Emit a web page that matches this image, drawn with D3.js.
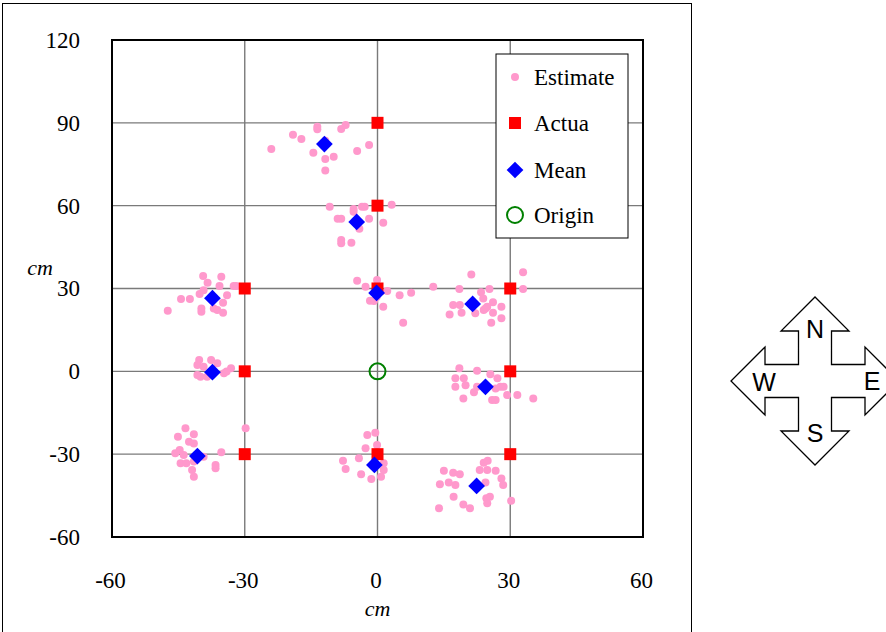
<!DOCTYPE html>
<html>
<head>
<meta charset="utf-8">
<script src="https://cdn.jsdelivr.net/npm/d3@7/dist/d3.min.js"></script>
<style>
  body { margin: 0; background: #fff; }
  svg { display: block; }
</style>
</head>
<body>
<svg width="886" height="632"></svg>
<script>
const xTicks = [-60, -30, 0, 30, 60]
const yTicks = [-60, -30, 0, 30, 60, 90, 120]
const gridX = [-30, 0, 30]
const gridY = [-30, 0, 30, 60, 90]

const actual = [[0, 90], [0, 60], [-30, 30], [0, 30], [30, 30], [-30, 0], [30, 0], [-30, -30], [0, -30], [30, -30]]
const means = [[-12.0, 82.3], [-4.7, 54.1], [-37.3, 26.5], [-0.2, 28.4], [21.5, 24.4], [-37.3, -0.3], [24.4, -5.6], [-40.7, -30.7], [-0.7, -33.9], [22.4, -41.5]]
const origin = [[0, 0]]

// estimates, grouped by target
const estN90 = [[-24.0, 80.5], [-19.1, 85.7], [-17.2, 84.1], [-13.6, 88.6], [-13.6, 87.7], [-8.2, 87.8], [-7.2, 89.2], [-14.5, 79.2], [-11.8, 76.9], [-9.9, 77.7], [-11.8, 72.7], [-4.6, 79.8], [-1.9, 82.0], [-11.8, 83.5]]
const estN60 = [[-10.8, 59.6], [-5.4, 58.8], [-3.5, 59.6], [-2.9, 59.6], [3.2, 60.3], [-9.0, 55.3], [-8.2, 55.3], [-1.9, 55.3], [1.3, 53.8], [-4.1, 51.6], [-8.2, 47.6], [-8.2, 46.4], [-5.9, 46.6], [-5.4, 57.8]]
const estNW = [[-39.4, 34.5], [-35.3, 34.3], [-38.4, 32.1], [-35.7, 30.9], [-32.5, 30.9], [-31.9, 30.9], [-44.4, 26.2], [-42.4, 26.2], [-40.2, 28.0], [-34.0, 27.6], [-34.9, 24.8], [-47.4, 21.9], [-39.8, 22.8], [-39.8, 21.6], [-37.0, 22.8], [-36.2, 22.2], [-34.9, 21.2], [-39.3, 29.4]]
const estW = [[-40.3, 4.1], [-37.6, 4.1], [-40.7, 2.3], [-36.2, 2.9], [-33.1, 1.1], [-40.7, -1.3], [-40.0, -2.0], [-38.5, -2.0], [-34.7, -0.7], [-34.1, -0.1], [-39.3, 1.7]]
const estN30 = [[-4.6, 32.8], [-2.7, 30.6], [-0.1, 33.1], [2.2, 29.1], [5.0, 27.6], [7.6, 28.5], [12.6, 30.6], [-1.7, 25.6], [-0.8, 25.5], [1.3, 23.4], [5.8, 17.6], [-0.2, 26.9]]
const estNE = [[21.2, 35.1], [32.9, 35.9], [18.5, 29.8], [23.4, 28.6], [25.3, 29.8], [32.9, 29.8], [23.9, 26.4], [17.1, 24.0], [18.6, 24.0], [26.1, 25.0], [24.8, 23.4], [24.0, 22.2], [28.0, 23.4], [16.3, 20.6], [19.0, 21.2], [22.1, 21.0], [26.1, 21.2], [28.0, 19.2], [25.7, 17.6], [24.4, 22.8]]
const estE = [[18.5, 1.1], [22.5, 0.2], [25.5, -1.1], [17.6, -2.5], [19.5, -2.5], [27.1, -2.5], [17.6, -5.6], [19.9, -5.0], [22.5, -5.6], [27.8, -5.6], [28.5, -5.6], [21.8, -7.6], [26.7, -6.2], [29.3, -8.6], [31.6, -8.6], [25.9, -10.4], [26.7, -10.4], [19.4, -9.8], [35.2, -9.8]]
const estSW = [[-43.4, -20.6], [-41.5, -22.8], [-29.8, -20.6], [-45.1, -23.7], [-42.6, -25.5], [-41.5, -26.1], [-45.7, -29.7], [-44.7, -28.5], [-43.8, -30.3], [-35.3, -29.3], [-44.5, -33.3], [-43.2, -33.3], [-41.5, -32.7], [-41.9, -35.7], [-41.5, -38.2], [-36.6, -33.9], [-36.6, -35.1], [-39.3, -30.9]]
const estS = [[-2.3, -23.1], [-0.5, -22.2], [-0.1, -26.7], [-2.7, -27.9], [-4.2, -31.5], [-7.8, -32.4], [-7.2, -35.4], [1.4, -33.3], [1.4, -35.7], [-3.7, -37.3], [-1.4, -39.0], [0.8, -38.2]]
const estSE = [[24.0, -33.1], [24.9, -32.4], [23.1, -35.7], [24.8, -35.7], [26.7, -36.0], [15.0, -36.0], [17.1, -36.7], [18.6, -37.3], [28.0, -38.8], [28.4, -41.2], [14.1, -40.9], [16.1, -40.3], [17.6, -41.2], [24.4, -40.3], [17.2, -45.4], [24.6, -46.0], [25.4, -45.4], [30.2, -46.9], [19.4, -48.2], [20.9, -49.6], [13.9, -49.6], [24.8, -47.8]]

const estimates = [].concat(estN90, estN60, estNW, estW, estN30, estNE, estE, estSW, estS, estSE)

const legendLabels = ['Estimate', 'Actua', 'Mean', 'Origin']
const compassLabels = ['N', 'E', 'S', 'W']

const serif = "'Liberation Serif', 'Times New Roman', serif"

const svg = d3.select('svg')
const margin = { top: 40, right: 243, bottom: 95, left: 112 }
const width = +svg.attr('width') - margin.left - margin.right
const height = +svg.attr('height') - margin.top - margin.bottom

const x = d3.scaleLinear().domain([-60, 60]).range([0, width])
const y = d3.scaleLinear().domain([-60, 120]).range([height, 0])

// outer frame
svg.append('rect')
  .attr('x', 2.5).attr('y', 3.5)
  .attr('width', 689).attr('height', 640)
  .attr('fill', 'none').attr('stroke', '#000').attr('stroke-width', 1)

const g = svg.append('g').attr('transform', `translate(${margin.left},${margin.top})`)

// grid
g.selectAll('.gx').data(gridX).enter().append('line')
  .attr('x1', d => x(d)).attr('x2', d => x(d))
  .attr('y1', 0).attr('y2', height)
  .attr('stroke', '#7a7a7a').attr('stroke-width', 1.4)
g.selectAll('.gy').data(gridY).enter().append('line')
  .attr('x1', 0).attr('x2', width)
  .attr('y1', d => y(d)).attr('y2', d => y(d))
  .attr('stroke', '#7a7a7a').attr('stroke-width', 1.4)

// axes (labels only)
const xAxis = g.append('g').attr('transform', `translate(-2,${height})`)
  .call(d3.axisBottom(x).tickValues(xTicks).tickSize(0).tickPadding(35).tickFormat(d => String(d)))
xAxis.select('.domain').remove()

const yAxis = g.append('g')
  .call(d3.axisLeft(y).tickValues(yTicks).tickSize(0).tickPadding(32).tickFormat(d => String(d)))
yAxis.select('.domain').remove()

g.selectAll('.tick text')
  .attr('font-family', serif).attr('font-size', 23).attr('fill', '#000')
xAxis.attr('font-family', null)
yAxis.attr('font-family', null)

g.append('text')
  .attr('x', x(0)).attr('y', height + 79)
  .attr('text-anchor', 'middle')
  .attr('font-family', serif).attr('font-style', 'italic').attr('font-size', 22)
  .text('cm')
svg.append('text')
  .attr('x', 40).attr('y', 275)
  .attr('text-anchor', 'middle')
  .attr('font-family', serif).attr('font-style', 'italic').attr('font-size', 22)
  .text('cm')

// marks
const diamond = d3.symbol().type(d3.symbolSquare).size(140)

g.selectAll('.est').data(estimates).enter().append('circle')
  .attr('cx', d => x(d[0])).attr('cy', d => y(d[1]))
  .attr('r', 4).attr('fill', '#ff99cc')

g.selectAll('.act').data(actual).enter().append('rect')
  .attr('x', d => x(d[0]) - 6).attr('y', d => y(d[1]) - 6)
  .attr('width', 12).attr('height', 12).attr('fill', '#ff0000')

g.selectAll('.mean').data(means).enter().append('path')
  .attr('d', diamond)
  .attr('transform', d => `translate(${x(d[0])},${y(d[1])}) rotate(45)`)
  .attr('fill', '#0000ff')

g.selectAll('.orig').data(origin).enter().append('circle')
  .attr('cx', d => x(d[0])).attr('cy', d => y(d[1]))
  .attr('r', 8).attr('fill', 'none').attr('stroke', '#008000').attr('stroke-width', 2)

// plot border
g.append('rect')
  .attr('width', width).attr('height', height)
  .attr('fill', 'none').attr('stroke', '#000').attr('stroke-width', 2)

// legend
const legend = svg.append('g').attr('transform', 'translate(496,54)')
legend.append('rect')
  .attr('width', 132).attr('height', 184)
  .attr('fill', '#fff').attr('stroke', '#000').attr('stroke-width', 1)

const rowY = [23, 69, 116, 161]
const items = legend.selectAll('.item').data(legendLabels).enter().append('g')
  .attr('transform', (d, i) => `translate(19,${rowY[i]})`)
items.append('text')
  .attr('x', 19).attr('y', 0).attr('dy', '0.35em')
  .attr('font-family', serif).attr('font-size', 23)
  .text(d => d)
items.each(function (d, i) {
  const it = d3.select(this)
  if (i === 0) it.append('circle').attr('r', 4).attr('fill', '#ff99cc')
  if (i === 1) it.append('rect').attr('x', -6).attr('y', -6).attr('width', 12).attr('height', 12).attr('fill', '#ff0000')
  if (i === 2) it.append('path').attr('d', diamond).attr('transform', 'rotate(45)').attr('fill', '#0000ff')
  if (i === 3) it.append('circle').attr('r', 8).attr('fill', 'none').attr('stroke', '#008000').attr('stroke-width', 2)
})

// compass: one outline, four arrow arms rotated about the centre
const cx = 815, cy = 381
const s = 16.5, b = 50, t = 84, h = 34
const pts = []
for (let k = 0; k < 4; k++) {
  const a = k * Math.PI / 2
  const seq = [[-s, -s], [-s, -b], [-h, -b], [0, -t], [h, -b], [s, -b]]
  seq.forEach(p => {
    pts.push([cx + p[0] * Math.cos(a) - p[1] * Math.sin(a), cy + p[0] * Math.sin(a) + p[1] * Math.cos(a)])
  })
}
svg.append('path')
  .attr('d', d3.line()(pts) + 'Z')
  .attr('fill', '#fff').attr('stroke', '#000').attr('stroke-width', 1.3)

const labelPos = [[815, 329], [872, 381], [815, 433], [764, 382]]
svg.selectAll('.dir').data(compassLabels).enter().append('text')
  .attr('x', (d, i) => labelPos[i][0]).attr('y', (d, i) => labelPos[i][1])
  .attr('dy', '0.36em').attr('text-anchor', 'middle')
  .attr('font-family', "'Liberation Sans', Arial, sans-serif").attr('font-size', 25)
  .text(d => d)
</script>
</body>
</html>
